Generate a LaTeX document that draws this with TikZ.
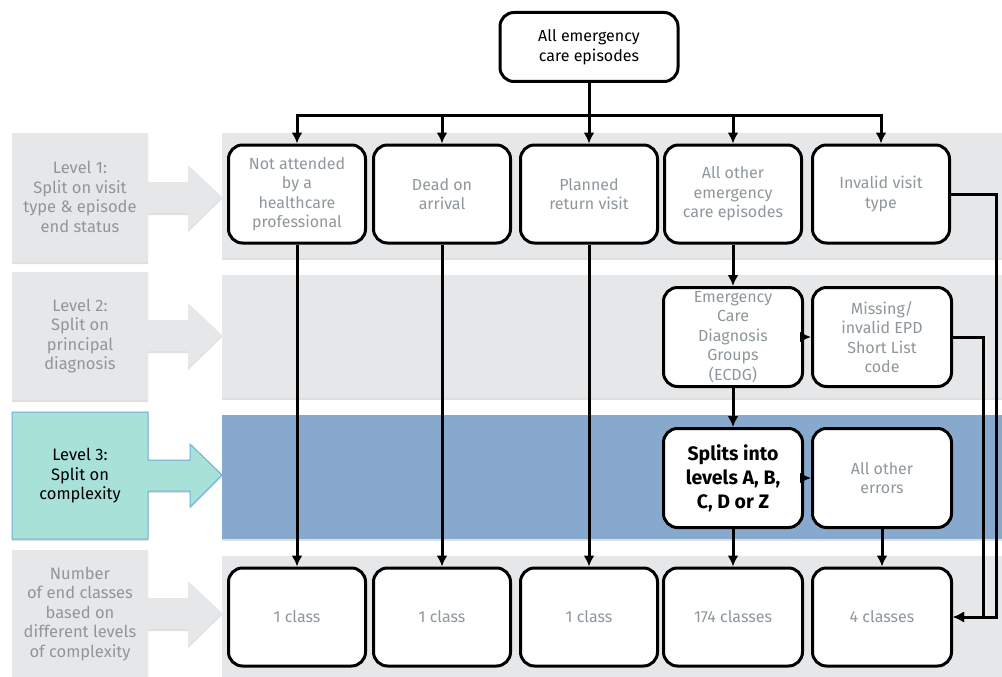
\documentclass[tikz,border=0pt]{standalone}
\usepackage{fontspec}
\setmainfont{Fira Sans}
\usetikzlibrary{arrows.meta,shadows}
\definecolor{txtgrey}{HTML}{8E979C}
\definecolor{bandgrey}{HTML}{E6E7E9}
\definecolor{bandblue}{HTML}{87A9CE}
\definecolor{lvlteal}{HTML}{A8E1D8}
\definecolor{lvledge}{HTML}{6AAFD6}
\begin{document}
\begin{tikzpicture}[x=1pt,y=-1pt,
  box/.style={draw,fill=white,line width=3pt,rounded corners=14pt,minimum width=137pt,minimum height=98pt,
    inner sep=0pt,align=center,text=txtgrey,font=\fontsize{16}{19.5}\selectfont},
  band/.style={fill=bandgrey,drop shadow={shadow xshift=0pt,shadow yshift=-2pt,opacity=.25}},
  lvl/.style={fill=bandgrey,drop shadow={shadow xshift=0pt,shadow yshift=-2pt,opacity=.25}},
  lvltext/.style={align=center,text=txtgrey,font=\fontsize{16.5}{19.5}\selectfont},
  link/.style={line width=3pt},
  arr/.style={link,-{Latex[length=11pt,width=11pt]}}]
\useasboundingbox (0,0) rectangle (1002,677);

% bands
\path[band] (222,133) rectangle (1010,258);
\path[band] (222,275) rectangle (1010,398);
\path[band,fill=bandblue] (222,415) rectangle (1010,539);
\path[band] (222,556) rectangle (1010,690);

% level labels with arrows
\path[lvl] (12,133) -- (148,133) -- (148,182) -- (188,182) -- (188,165) -- (222,197) -- (188,230) -- (188,213) -- (148,213) -- (148,262) -- (12,262) -- cycle;
\path[lvl] (12,272) -- (148,272) -- (148,320) -- (188,320) -- (188,303) -- (222,335) -- (188,368) -- (188,351) -- (148,351) -- (148,400) -- (12,400) -- cycle;
\path[lvl,fill=lvlteal,draw=lvledge,line width=1pt] (12,412) -- (148,412) -- (148,460) -- (190,460) -- (190,444) -- (222,475) -- (190,507) -- (190,491) -- (148,491) -- (148,539) -- (12,539) -- cycle;
\path[lvl] (12,550) -- (148,550) -- (148,598) -- (188,598) -- (188,581) -- (222,613) -- (188,646) -- (188,629) -- (148,629) -- (148,690) -- (12,690) -- cycle;
\node[lvltext] (l1) at (80,197) {Level 1:\\Split on visit\\type \& episode\\end status};
\node[lvltext] (l2) at (80,336) {Level 2:\\Split on\\principal\\diagnosis};
\node[lvltext,text=black] (l3) at (80,476) {Level 3:\\Split on\\complexity};
\node[lvltext] (l4) at (80,614) {Number\\of end classes\\based on\\different levels\\of complexity};

% boxes
\node[box,text=black,minimum width=178pt,minimum height=69pt] (top) at (589,47) {All emergency\\care episodes};
\node[box] (n1) at (297,194) {Not attended\\by a\\healthcare\\professional};
\node[box] (n2) at (442,194) {Dead on\\arrival};
\node[box] (n3) at (589,194) {Planned\\return visit};
\node[box] (n4) at (733,194) {All other\\emergency\\care episodes};
\node[box] (n5) at (881,194) {Invalid visit\\type};
\node[box,minimum width=139pt,minimum height=99pt] (ecdg) at (733,337) {Emergency\\Care\\Diagnosis\\Groups\\(ECDG)};
\node[box,minimum width=139pt,minimum height=99pt] (miss) at (882,337) {Missing/\\invalid EPD\\Short List\\code};
\node[box,text=black,minimum width=139pt,minimum height=99pt,font=\fontsize{19.5}{24}\selectfont\bfseries] (split) at (733,478) {Splits into\\levels A, B,\\C, D or Z};
\node[box,minimum width=139pt,minimum height=99pt] (err) at (882,478) {All other\\errors};
\node[box] (c1) at (297,617) {1 class};
\node[box] (c2) at (442,617) {1 class};
\node[box] (c3) at (589,617) {1 class};
\node[box,minimum width=139pt] (c4) at (733,617) {174 classes};
\node[box,minimum width=139pt] (c5) at (882,617) {4 classes};

% connectors
\coordinate (bus) at (589,115);
\draw[link] (top) -- (bus);
\foreach \n in {n1,n2,n3,n4,n5} \draw[arr] (bus) -| (\n);
\foreach \a/\b in {n1/c1,n2/c2,n3/c3,n4/ecdg,ecdg/split,split/c4,err/c5} \draw[arr] (\a) -- (\b);
\draw[arr] (ecdg) -- (miss);
\draw[arr] (split) -- (err);
\draw[arr] (n5.east) -- ++(45,0) |- (c5.east);
\draw[arr] (miss.east) -- ++(30,0) |- (c5.east);
\end{tikzpicture}
\end{document}
